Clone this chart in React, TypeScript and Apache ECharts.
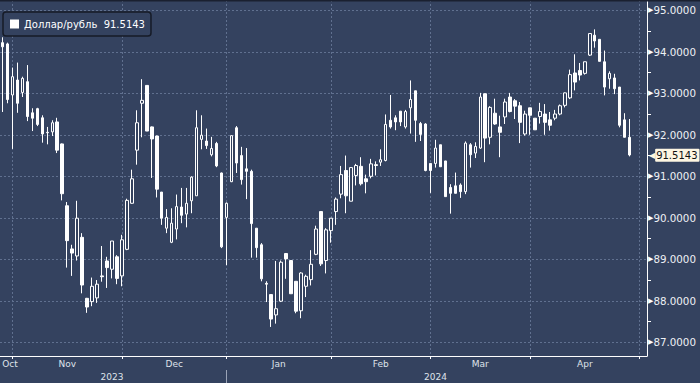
import React, { useEffect, useRef } from 'react';
import * as echarts from 'echarts';

const seriesName = 'Доллар/рубль';
const monthNames = ['Oct', 'Nov', 'Dec', 'Jan', 'Feb', 'Mar', 'Apr', 'May'];
const monthDays = [2, 22, 21, 21, 20, 20, 22, 2];
const monthYears = ['2023', '2023', '2023', '2024', '2024', '2024', '2024', '2024'];

const opens = [
  94.22, 94.19, 92.96, 93.32, 93.02, 93.28, 92.53, 92.63, 92.41, 92.06,
  92.07, 92.31, 91.78, 90.29, 89.25, 89.08, 89.53, 88.06, 87.98, 88.07,
  88.60, 88.96, 88.76, 89.06, 88.60, 89.24, 90.35, 91.63, 92.76, 93.19,
  92.19, 91.97, 90.62, 89.75, 89.41, 89.73, 90.26, 90.09, 90.41, 90.53,
  91.89, 91.85, 91.52, 91.79, 91.08, 90.01, 90.87, 92.17, 91.50, 91.18,
  91.12, 89.75, 89.35, 88.42, 88.15, 87.66, 87.99, 89.14, 88.97, 88.47,
  87.76, 88.35, 88.51, 89.12, 90.15, 88.97, 89.69, 90.15, 90.57, 91.14,
  90.40, 91.02, 91.24, 90.94, 91.00, 91.28, 91.34, 91.38, 92.35, 92.41,
  92.57, 92.19, 92.65, 93.06, 92.27, 92.26, 91.31, 91.31, 91.76, 91.37,
  90.73, 90.77, 90.79, 90.63, 91.76, 91.56, 91.68, 92.99, 91.94, 92.52,
  92.19, 92.43, 92.91, 92.82, 92.70, 92.02, 92.65, 92.40, 92.44, 92.50,
  92.36, 92.40, 92.50, 92.71, 92.89, 93.49, 93.55, 93.48, 93.92, 94.40,
  94.30, 93.76, 93.35, 93.37, 93.15, 92.36, 91.94,
];
const closes = [
  94.12, 92.85, 93.40, 92.76, 93.36, 92.44, 92.40, 92.25, 92.02, 92.05,
  92.29, 91.63, 90.58, 89.45, 89.15, 89.99, 88.38, 87.85, 88.35, 88.40,
  88.58, 88.80, 89.44, 88.54, 89.47, 90.42, 90.94, 92.29, 92.83, 92.09,
  91.90, 90.69, 89.99, 90.01, 89.87, 90.27, 90.06, 90.35, 90.98, 92.17,
  91.99, 91.74, 91.67, 91.25, 89.30, 90.35, 91.98, 91.32, 90.92, 91.12,
  89.86, 89.28, 88.53, 88.40, 87.56, 87.81, 88.93, 89.01, 88.17, 87.75,
  88.67, 88.59, 88.88, 89.73, 88.89, 89.71, 89.99, 90.45, 91.04, 90.53,
  91.21, 91.26, 90.82, 90.87, 91.30, 91.26, 91.40, 92.25, 92.19, 92.31,
  92.31, 92.56, 92.85, 92.35, 92.01, 91.14, 91.14, 91.68, 91.23, 90.51,
  90.59, 90.59, 90.63, 91.80, 91.52, 91.72, 92.91, 91.92, 92.66, 92.26,
  92.06, 92.79, 92.56, 92.69, 92.30, 92.50, 92.47, 92.12, 92.56, 92.30,
  92.23, 92.50, 92.70, 93.01, 93.45, 93.27, 93.44, 93.76, 94.44, 94.26,
  93.77, 93.15, 93.48, 93.11, 92.23, 91.94, 91.5143,
];
const lows = [
  92.55, 92.76, 91.66, 92.53, 92.91, 92.33, 92.09, 92.21, 91.81, 91.77,
  91.97, 91.56, 90.42, 88.80, 88.60, 88.97, 88.18, 87.71, 87.87, 87.95,
  88.46, 88.31, 88.54, 88.40, 88.35, 89.22, 90.34, 91.28, 91.94, 92.09,
  90.96, 90.49, 89.83, 89.63, 89.39, 89.48, 89.87, 89.77, 90.11, 90.53,
  91.65, 91.66, 91.48, 91.22, 89.27, 88.86, 90.86, 91.08, 90.80, 90.45,
  89.04, 89.04, 88.47, 87.97, 87.37, 87.45, 87.97, 88.53, 88.17, 87.70,
  87.58, 88.09, 88.37, 89.10, 88.84, 88.66, 89.40, 89.83, 90.47, 90.11,
  90.40, 90.78, 90.78, 90.59, 90.95, 91.02, 91.25, 91.36, 92.15, 92.11,
  92.21, 92.15, 92.03, 91.83, 91.85, 91.12, 90.60, 91.21, 91.23, 90.51,
  90.10, 90.59, 90.48, 90.57, 91.21, 91.44, 91.66, 91.34, 91.77, 92.24,
  91.46, 92.26, 92.54, 92.38, 91.80, 91.98, 92.00, 92.12, 92.27, 92.00,
  92.10, 92.35, 92.47, 92.66, 92.86, 93.07, 93.31, 93.45, 93.90, 94.10,
  93.77, 92.95, 93.11, 92.98, 92.18, 91.94, 91.48,
];
const highs = [
  94.35, 94.22, 93.62, 93.74, 93.40, 93.68, 92.64, 92.65, 92.47, 92.19,
  92.35, 92.41, 91.79, 90.38, 89.35, 90.41, 89.63, 88.07, 88.56, 88.50,
  89.32, 89.06, 89.44, 89.10, 89.59, 90.46, 91.16, 92.59, 93.34, 93.19,
  92.20, 91.98, 90.62, 90.21, 90.23, 90.56, 90.72, 90.72, 91.00, 92.59,
  92.47, 92.15, 91.95, 91.83, 91.09, 90.37, 91.98, 92.21, 91.71, 91.68,
  91.16, 89.75, 89.39, 88.47, 88.15, 88.96, 88.97, 89.14, 88.97, 88.47,
  88.69, 88.63, 89.22, 89.81, 90.15, 89.75, 89.99, 90.49, 91.25, 91.50,
  91.21, 91.30, 91.46, 91.04, 91.42, 91.36, 91.65, 92.49, 92.96, 92.47,
  92.57, 92.60, 93.31, 93.06, 92.31, 92.28, 91.31, 91.88, 91.76, 91.37,
  90.81, 91.09, 90.83, 91.84, 91.80, 91.82, 93.01, 92.99, 92.69, 92.87,
  92.46, 92.87, 93.01, 92.86, 92.79, 92.58, 92.65, 92.40, 92.77, 92.74,
  92.55, 92.60, 92.73, 93.02, 93.57, 93.94, 93.73, 93.76, 94.44, 94.54,
  94.30, 94.03, 93.53, 93.47, 93.15, 92.52, 92.38,
];

const BG = '#34425f';
const GRID = '#60708f';
const TAG = '#fdf6e2';
const FONT = 'DejaVu Sans';

export default function App() {
  const ref = useRef<HTMLDivElement>(null);

  useEffect(() => {
    if (!ref.current) return;
    const chart = echarts.init(ref.current, null, { renderer: 'svg' });

    const categories: string[] = [];
    const monthStarts: number[] = [];
    monthNames.forEach((m, mi) => {
      monthStarts.push(categories.length);
      for (let d = 0; d < monthDays[mi]; d++) categories.push(`${monthYears[mi]}-${m}-${d + 1}`);
    });
    const tickSet = new Set(monthStarts.slice(1));
    const monthLabels = new Map<number, { text: string; shift: boolean }>();
    monthNames.forEach((m, mi) => {
      if (mi === monthNames.length - 1) return;
      const p = monthStarts[mi] + monthDays[mi] / 2;
      const idx = Math.floor(p);
      monthLabels.set(idx, { text: m, shift: p !== idx || mi === 0 });
    });
    const yearLabels = new Map<number, string>();
    const yearTicks = new Set<number>();
    const yearOrder = Array.from(new Set(monthYears));
    yearOrder.forEach((y) => {
      const first = categories.findIndex((c) => c.startsWith(y));
      let last = -1;
      categories.forEach((c, i) => { if (c.startsWith(y)) last = i; });
      if (first > 0) yearTicks.add(first);
      yearLabels.set(Math.round(first + (last - first) / 2), y);
    });

    const lastClose = closes[closes.length - 1];
    const data = opens.map((o, i) => [o, closes[i], lows[i], highs[i]]);

    chart.setOption({
      animation: false,
      backgroundColor: BG,
      textStyle: { fontFamily: FONT },
      grid: { left: 0, right: 53, top: 0, bottom: 27, containLabel: false, outerBoundsMode: 'none' },
      legend: {
        left: 3,
        top: 12,
        selectedMode: false,
        data: [{ name: seriesName, icon: 'rect', itemStyle: { color: '#ffffff', borderWidth: 0 } }],
        formatter: (n: string) => `${n}  ${lastClose.toFixed(4)}`,
        itemWidth: 9,
        itemHeight: 9,
        padding: [7, 6, 7, 7],
        backgroundColor: BG,
        borderColor: '#161b27',
        borderWidth: 1.5,
        borderRadius: 3,
        textStyle: { color: '#ffffff', fontSize: 10, fontFamily: FONT },
      },
      xAxis: [
        {
          type: 'category',
          data: categories,
          boundaryGap: true,
          axisLine: { show: true, onZero: false, lineStyle: { color: '#ffffff', width: 1 } },
          axisTick: {
            show: true,
            alignWithLabel: true,
            length: 3,
            interval: (i: number) => tickSet.has(i),
            lineStyle: { color: '#ffffff' },
          },
          splitLine: {
            show: true,
            alignWithLabel: true,
            interval: (i: number) => tickSet.has(i),
            lineStyle: { color: GRID, type: [2, 2], width: 1 },
          },
          axisLabel: {
            interval: (i: number) => monthLabels.has(i),
            formatter: (_v: string, i: number) => {
              const l = monthLabels.get(i);
              if (!l) return '';
              return l.shift ? `{s|${l.text}}` : `{n|${l.text}}`;
            },
            margin: 3,
            rich: {
              s: { color: '#dfe3ea', fontSize: 9, fontFamily: FONT, padding: [0, 0, 0, 5] },
              n: { color: '#dfe3ea', fontSize: 9, fontFamily: FONT },
            },
          },
        },
        {
          type: 'category',
          data: categories,
          boundaryGap: true,
          position: 'bottom',
          offset: 14,
          axisLine: { show: false },
          splitLine: { show: false },
          axisTick: {
            show: true,
            alignWithLabel: true,
            length: 13,
            interval: (i: number) => yearTicks.has(i),
            lineStyle: { color: '#9aa3b6' },
          },
          axisLabel: {
            interval: (i: number) => yearLabels.has(i),
            formatter: (_v: string, i: number) => yearLabels.get(i) || '',
            margin: 2,
            color: '#dfe3ea',
            fontSize: 9,
            fontFamily: FONT,
          },
        },
      ],
      yAxis: {
        type: 'value',
        position: 'right',
        min: 86.67,
        max: 95.248,
        splitNumber: 8,
        axisLine: { show: true, lineStyle: { color: '#ffffff', width: 1 } },
        axisTick: { show: false },
        minorTick: { show: true, splitNumber: 2, length: 4, lineStyle: { color: '#ffffff' } },
        splitLine: { show: true, lineStyle: { color: GRID, type: [2, 2], width: 1 } },
        axisLabel: {
          showMinLabel: false,
          showMaxLabel: false,
          margin: 1,
          formatter: (v: number) => `{a|▶}{b|${v.toFixed(4)}}`,
          rich: {
            a: { color: '#ffffff', fontSize: 7, fontFamily: FONT },
            b: { color: '#eef0f4', fontSize: 10.3, fontFamily: FONT },
          },
        },
      },
      graphic: [
        { type: 'rect', shape: { x: 0, y: 0, width: 700, height: 1.5 }, style: { fill: '#1a2030' }, z: 100 },
      ],
      series: [
        {
          type: 'candlestick',
          name: seriesName,
          xAxisIndex: 0,
          yAxisIndex: 0,
          clip: false,
          data,
          barWidth: 3,
          itemStyle: {
            color: BG,
            color0: '#ffffff',
            borderColor: '#ffffff',
            borderColor0: '#ffffff',
            borderColorDoji: '#ffffff',
            borderWidth: 1,
          },
          markLine: {
            silent: true,
            symbol: ['none', 'none'],
            lineStyle: { color: 'rgba(0,0,0,0)', width: 0 },
            data: [{ yAxis: lastClose }],
            label: {
              show: true,
              position: 'end',
              distance: 2,
              formatter: () => `{a|◀}{b|${lastClose.toFixed(4)}}`,
              rich: {
                a: { color: TAG, fontSize: 8, fontFamily: FONT },
                b: {
                  backgroundColor: TAG,
                  color: '#111111',
                  fontSize: 10,
                  fontFamily: FONT,
                  padding: [2, 2, 1, 1],
                  borderRadius: 1,
                },
              },
            },
          },
        },
      ],
    });

    return () => chart.dispose();
  }, []);

  return <div ref={ref} style={{ position: 'fixed', left: 0, top: 0, width: 700, height: 383 }} />;
}
